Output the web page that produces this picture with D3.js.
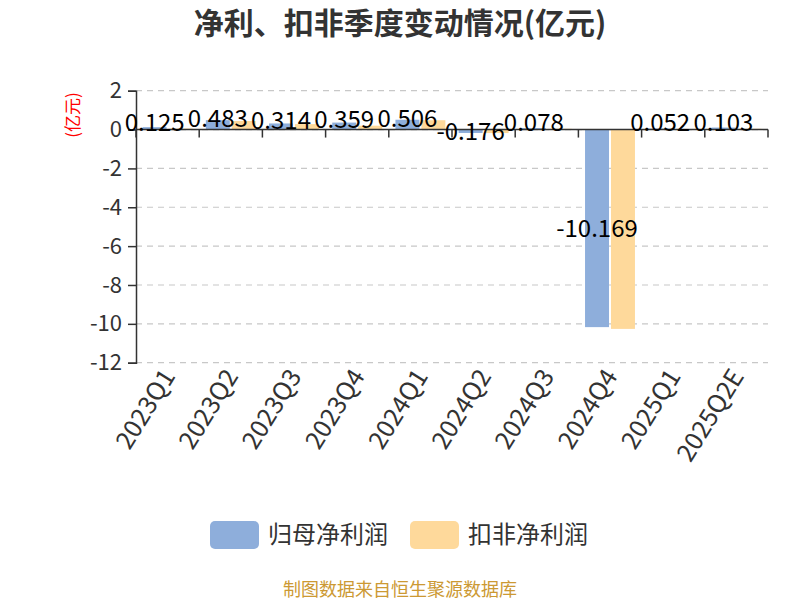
<!DOCTYPE html>
<html>
<head>
<meta charset="utf-8">
<script src="https://cdn.jsdelivr.net/npm/d3@7/dist/d3.min.js"></script>
<style>
  html, body { margin: 0; padding: 0; background: #fff; }
  svg { display: block; font-family: "Noto Sans CJK SC", "Noto Sans", sans-serif; }
</style>
</head>
<body>
<svg id="chart" width="800" height="600"></svg>
<script>
const categories = ["2023Q1","2023Q2","2023Q3","2023Q4","2024Q1","2024Q2","2024Q3","2024Q4","2025Q1","2025Q2E"];
const seriesNames = ["归母净利润","扣非净利润"];
const netProfit = [0.125, 0.483, 0.314, 0.359, 0.506, -0.176, 0.078, -10.169, 0.052, 0.103];
const deductedProfit = [0.05, 0.44, 0.28, 0.20, 0.48, -0.18, 0.04, -10.26, 0.02, 0.04];
const yTicks = [2, 0, -2, -4, -6, -8, -10, -12];
const colors = ["#8eaedb", "#fed99b"];

const svg = d3.select("#chart");
const plotLeft = 136, plotRight = 768, plotTop = 90.7, plotBottom = 362.7;

const x = d3.scaleBand().domain(categories).range([plotLeft, plotRight]).padding(0);
const bw = x.bandwidth();
const x1 = d3.scaleBand().domain(seriesNames).range([bw * 0.105, bw * 0.895]).paddingInner(0.077);
const y = d3.scaleLinear().domain([-12, 2]).range([plotBottom, plotTop]);

// title
svg.append("text").attr("x", 400).attr("y", 34).attr("text-anchor", "middle")
  .attr("font-size", 30).attr("font-weight", "bold").attr("fill", "#333")
  .text("净利、扣非季度变动情况(亿元)");

// grid
svg.append("g").selectAll("line").data(yTicks).join("line")
  .attr("x1", plotLeft).attr("x2", plotRight)
  .attr("y1", d => y(d)).attr("y2", d => y(d))
  .attr("stroke", "#c8c8c8").attr("stroke-width", 1.2).attr("stroke-dasharray", "6,5");

// y axis
const yAxis = svg.append("g").attr("transform", `translate(${plotLeft},0)`)
  .call(d3.axisLeft(y).tickValues(yTicks).tickSize(8).tickPadding(6).tickFormat(d => String(d)));
yAxis.select(".domain").attr("stroke", "#333").attr("stroke-width", 1.5);
yAxis.selectAll(".tick line").attr("stroke", "#333").attr("stroke-width", 1.5);
yAxis.selectAll(".tick text").attr("font-size", 22).attr("fill", "#333")
  .attr("font-family", "'Noto Sans CJK SC', sans-serif");

// y label
svg.append("text").attr("transform", `translate(79,115) rotate(-90)`)
  .attr("text-anchor", "middle").attr("font-size", 17).attr("fill", "#ff0000")
  .text("(亿元)");

// bars
const data = categories.map((c, i) => ({cat: c, vals: [netProfit[i], deductedProfit[i]]}));
const groups = svg.append("g").selectAll("g").data(data).join("g")
  .attr("transform", d => `translate(${x(d.cat)},0)`);
groups.selectAll("rect").data(d => d.vals.map((v, k) => ({name: seriesNames[k], v, k})))
  .join("rect")
  .attr("x", d => x1(d.name))
  .attr("width", x1.bandwidth())
  .attr("y", d => Math.min(y(0), y(d.v)))
  .attr("height", d => Math.abs(y(d.v) - y(0)))
  .attr("fill", d => colors[d.k]);

// x axis line at zero
const xAxis = svg.append("g").attr("transform", `translate(0,${y(0)})`);
xAxis.append("line").attr("x1", plotLeft).attr("x2", plotRight).attr("stroke", "#333").attr("stroke-width", 1.5);
xAxis.selectAll("line.tick").data(d3.range(categories.length + 1)).join("line")
  .attr("class", "tick")
  .attr("x1", i => plotLeft + i * bw).attr("x2", i => plotLeft + i * bw)
  .attr("y1", 0).attr("y2", 8).attr("stroke", "#333").attr("stroke-width", 1.5);

// x labels
svg.append("g").selectAll("text").data(categories).join("text")
  .attr("transform", d => `translate(${x(d) + bw / 2 + 1},${plotBottom + 9}) rotate(-58)`)
  .attr("text-anchor", "end").attr("dy", "0.35em")
  .attr("font-size", 25).attr("fill", "#333")
  .text(d => d);

// value labels (归母净利润)
svg.append("g").selectAll("text").data(data).join("text")
  .attr("x", d => x(d.cat) + x1(seriesNames[0]) + x1.bandwidth() / 2)
  .attr("y", d => (y(0) + y(d.vals[0])) / 2 - (d.vals[0] > 0 ? 6 : 0))
  .attr("dy", "0.35em").attr("text-anchor", "middle")
  .attr("font-size", 24).attr("fill", "#000")
  .text(d => d.vals[0].toFixed(3));

// legend
const legend = svg.append("g");
seriesNames.forEach((name, k) => {
  const lx = 210 + k * 200;
  legend.append("rect").attr("x", lx).attr("y", 521).attr("width", 49).attr("height", 28)
    .attr("rx", 5).attr("fill", colors[k]);
  legend.append("text").attr("x", lx + 58).attr("y", 535).attr("dy", "0.35em")
    .attr("font-size", 24).attr("fill", "#333").text(name);
});

// footer
svg.append("text").attr("x", 400).attr("y", 596).attr("text-anchor", "middle")
  .attr("font-size", 18).attr("fill", "#cc9933").text("制图数据来自恒生聚源数据库");
</script>
</body>
</html>
